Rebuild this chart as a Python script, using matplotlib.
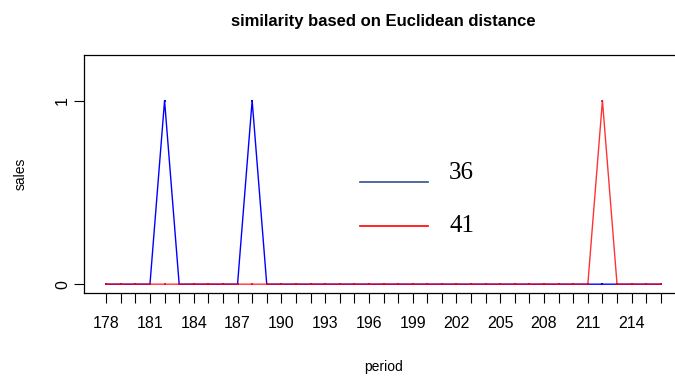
import matplotlib

matplotlib.use("Agg")
import matplotlib.pyplot as plt

periods = list(range(178, 217))
sales_36 = [0, 0, 0, 0, 1, 0, 0, 0, 0, 0, 1, 0, 0, 0, 0, 0, 0, 0, 0, 0,
            0, 0, 0, 0, 0, 0, 0, 0, 0, 0, 0, 0, 0, 0, 0, 0, 0, 0, 0]
sales_41 = [0, 0, 0, 0, 0, 0, 0, 0, 0, 0, 0, 0, 0, 0, 0, 0, 0, 0, 0, 0,
            0, 0, 0, 0, 0, 0, 0, 0, 0, 0, 0, 0, 0, 0, 1, 0, 0, 0, 0]
series_names = ["36", "41"]
x_tick_labels = list(range(178, 215, 3))

plt.rcParams['font.family'] = ['Liberation Sans', 'DejaVu Sans']

fig = plt.figure(figsize=(6.75, 3.78), dpi=100)
ax = fig.add_axes([84 / 675, 1 - 293 / 378, (683 - 84) / 675, (293 - 55) / 378])

ax.plot(periods, sales_36, color='blue', lw=1.0, marker='s', markersize=1.6,
        markeredgewidth=0)
ax.plot(periods, sales_41, color='red', lw=1.0, alpha=0.8, marker='s',
        markersize=1.8, markeredgewidth=0)

span = periods[-1] - periods[0]
ax.set_xlim(periods[0] - 0.04 * span, periods[-1] + 0.04 * span)
ax.set_ylim(-0.048, 1.248)

# x axis: a tick at every period, labels every third one
ax.set_xticks(periods, minor=True)
ax.set_xticks(x_tick_labels)
ax.set_xticklabels([str(v) for v in x_tick_labels], fontsize=11.5)
ax.tick_params(axis='x', which='both', direction='out', length=7.5, width=0.8,
               pad=9, color='black')
ax.set_yticks([0, 1])
ax.set_yticklabels(['0', '1'], rotation=90, va='center', fontsize=11.5)
ax.tick_params(axis='y', direction='out', length=7, width=0.8, pad=3)

for side in ['left', 'top', 'bottom', 'right']:
    ax.spines[side].set_linewidth(0.9)

ax.set_title('similarity based on Euclidean distance', fontsize=12,
             fontweight='bold', pad=21)
ax.set_xlabel('period', fontsize=10, labelpad=21)
ax.set_ylabel('sales', fontsize=10, labelpad=20)

# legend drawn by hand, no frame
legend_colors = ['#34508f', 'red']
legend_line_y = [(293 - 182) / 238, (293 - 226) / 238]
legend_text_y = [(293 - 173) / 238, (293 - 226) / 238]
for name, c, ly, ty in zip(series_names, legend_colors, legend_line_y, legend_text_y):
    ax.plot([(360 - 84) / 599, (428 - 84) / 599], [ly, ly], color=c, lw=1.2,
            transform=ax.transAxes, clip_on=False)
    ax.text((449 - 84) / 599, ty, name, transform=ax.transAxes, va='center',
            ha='left', fontsize=18, family='Liberation Serif')

fig.savefig('out.png', dpi=100)
plt.close(fig)
